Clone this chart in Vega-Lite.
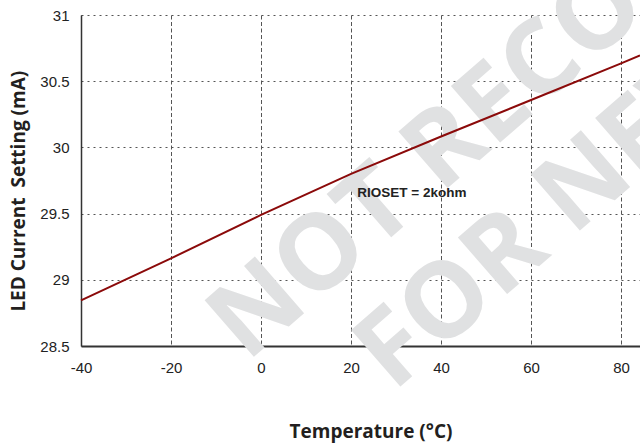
{
  "$schema": "https://vega.github.io/schema/vega-lite/v6.json",
  "width": 559,
  "height": 331,
  "autosize": {"type": "none"},
  "padding": {"left": 81, "top": 15, "right": 0, "bottom": 98},
  "background": "white",
  "config": {
    "view": {"stroke": null},
    "axis": {"zindex": 1}
  },
  "datasets": {
    "curve": [
      {"temp": -40, "current": 28.845},
      {"temp": -20, "current": 29.162},
      {"temp": 0, "current": 29.49},
      {"temp": 20, "current": 29.80},
      {"temp": 40, "current": 30.082},
      {"temp": 60, "current": 30.358},
      {"temp": 80, "current": 30.635},
      {"temp": 84.2, "current": 30.695}
    ],
    "notes": [
      {"temp": 21.4, "current": 29.623, "label": "RIOSET = 2kohm"}
    ],
    "watermark": [
      {"temp": -3.2, "current": 28.372, "label": "NOT RECOMMENDED"},
      {"temp": 29.4, "current": 28.146, "label": "FOR NEW DESIGNS"}
    ]
  },
  "encoding": {
    "x": {
      "field": "temp",
      "type": "quantitative",
      "scale": {"domain": [-40, 84.2], "nice": false, "zero": false},
      "axis": {
        "values": [-40, -20, 0, 20, 40, 60, 80],
        "labelExpr": "toString(datum.value)",
        "title": "Temperature (°C)",
        "titleFont": "Open Sans",
        "titleFontWeight": "bold",
        "titleFontSize": 19,
        "titleColor": "#231f20",
        "titleAlign": "center",
        "titleBaseline": "alphabetic",
        "titleX": 289.5,
        "titleY": 91.3,
        "labelFont": "Liberation Sans",
        "labelFontSize": 15,
        "labelColor": "#222222",
        "labelBaseline": "alphabetic",
        "labelPadding": 26.5,
        "ticks": false,
        "tickSize": 0,
        "domainColor": "#333333",
        "domainWidth": 2,
        "grid": true,
        "gridColor": "#555555",
        "gridWidth": 1,
        "gridDash": [4, 2.5],
        "labelFlush": false
      }
    },
    "y": {
      "field": "current",
      "type": "quantitative",
      "scale": {"domain": [28.5, 31], "nice": false, "zero": false},
      "axis": {
        "values": [28.5, 29, 29.5, 30, 30.5, 31],
        "format": "~g",
        "title": "LED Current\u00a0 Setting (mA)",
        "titleFont": "Open Sans",
        "titleFontWeight": "bold",
        "titleFontSize": 19,
        "titleColor": "#231f20",
        "titleAngle": 270,
        "titleAlign": "center",
        "titleBaseline": "alphabetic",
        "titleX": -57,
        "titleY": 175.7,
        "labelFont": "Liberation Sans",
        "labelFontSize": 15,
        "labelColor": "#222222",
        "labelPadding": 12,
        "labelBaseline": "middle",
        "ticks": false,
        "tickSize": 0,
        "domainColor": "#333333",
        "domainWidth": 1.5,
        "grid": true,
        "gridColor": "#555555",
        "gridWidth": 1,
        "gridDash": [2, 4],
        "labelFlush": false
      }
    }
  },
  "layer": [
    {
      "data": {"name": "watermark"},
      "mark": {
        "type": "text",
        "font": "Open Sans",
        "fontWeight": "bold",
        "fontSize": 105,
        "angle": 319,
        "align": "left",
        "baseline": "alphabetic",
        "color": "#e0e1e2"
      },
      "encoding": {"text": {"field": "label"}}
    },
    {
      "data": {"name": "curve"},
      "mark": {"type": "line", "color": "#8b0a0a", "strokeWidth": 2},
      "encoding": {}
    },
    {
      "data": {"name": "notes"},
      "mark": {
        "type": "text",
        "font": "Liberation Sans",
        "fontWeight": "bold",
        "fontSize": 13.5,
        "align": "left",
        "baseline": "alphabetic",
        "color": "#222222"
      },
      "encoding": {"text": {"field": "label"}}
    }
  ]
}
